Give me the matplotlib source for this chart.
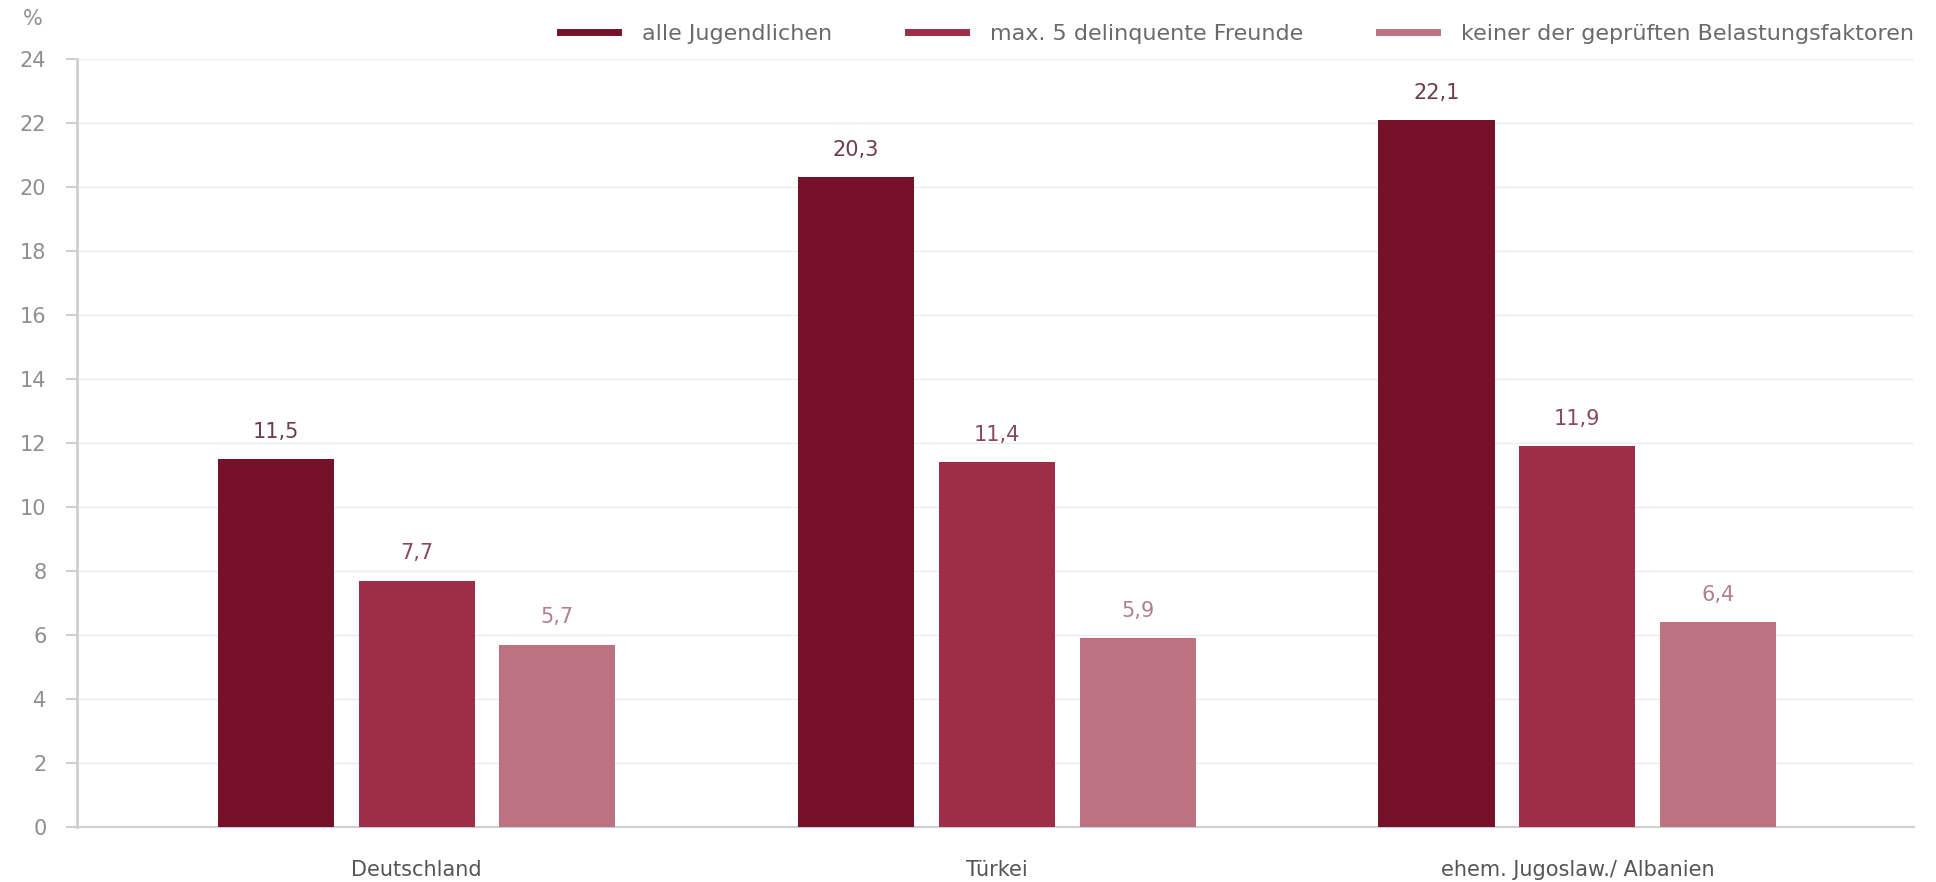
import matplotlib
matplotlib.use("Agg")
import matplotlib.pyplot as plt
import numpy as np
from matplotlib.lines import Line2D

plt.rcParams['font.family'] = ['DejaVu Sans']

# data
regions = ["Deutschland", "Türkei", "ehem. Jugoslaw./ Albanien"]
series_names = ["alle Jugendlichen", "max. 5 delinquente Freunde",
                "keiner der geprüften Belastungsfaktoren"]
alle = [11.5, 20.3, 22.1]
max5 = [7.7, 11.4, 11.9]
keiner = [5.7, 5.9, 6.4]
yticks = list(range(0, 25, 2))

bar_colors = ["#76112a", "#9e2d48", "#bd7282"]
label_colors = ["#6e3c4a", "#8a4a5c", "#b0808e"]
fs = 15

fig = plt.figure(figsize=(19.36, 8.82), dpi=100)
ax = fig.add_axes([0.0398, 0.0624, 0.9488, 0.8706])

x = np.arange(len(regions))
w = 0.2
step = 0.2426
for i, (vals, name) in enumerate(zip([alle, max5, keiner], series_names)):
    xs = x + (i - 1) * step
    ax.bar(xs, vals, width=w, color=bar_colors[i], label=name, zorder=3)
    for xx, v in zip(xs, vals):
        ax.text(xx, v + 0.85, f"{v:.1f}".replace(".", ","), ha="center", va="center",
                fontsize=fs, color=label_colors[i])

ax.set_xlim(-0.585, 2.58)
ax.set_ylim(0, 24)
ax.set_yticks(yticks)
ax.set_yticklabels([str(t) for t in yticks], fontsize=fs, color="#8f8f8f")
ax.set_xticks(x)
ax.set_xticklabels(regions, fontsize=fs, color="#555555")
ax.tick_params(axis="x", length=0, pad=24)
ax.tick_params(axis="y", length=8, color="#cfcfcf", width=1.5, pad=14)
ax.grid(axis="y", color="#ececec", linewidth=1, zorder=0)
for s in ["top", "right"]:
    ax.spines[s].set_visible(False)
ax.spines["left"].set_color("#cfcfcf")
ax.spines["left"].set_linewidth(2)
ax.spines["bottom"].set_color("#cfcfcf")
ax.spines["bottom"].set_linewidth(1.5)

fig.text(0.012, 0.978, "%", fontsize=fs, color="#8f8f8f", ha="left", va="center")

handles = [Line2D([0], [0], color=c, linewidth=5) for c in bar_colors]
leg = fig.legend(handles, series_names, loc="center right", bbox_to_anchor=(0.999, 0.962),
                 ncol=3, frameon=False, fontsize=16, handlelength=2.6,
                 columnspacing=3.4, handletextpad=1.1)
for t in leg.get_texts():
    t.set_color("#6a6a6a")

plt.savefig("out.png", dpi=100)
